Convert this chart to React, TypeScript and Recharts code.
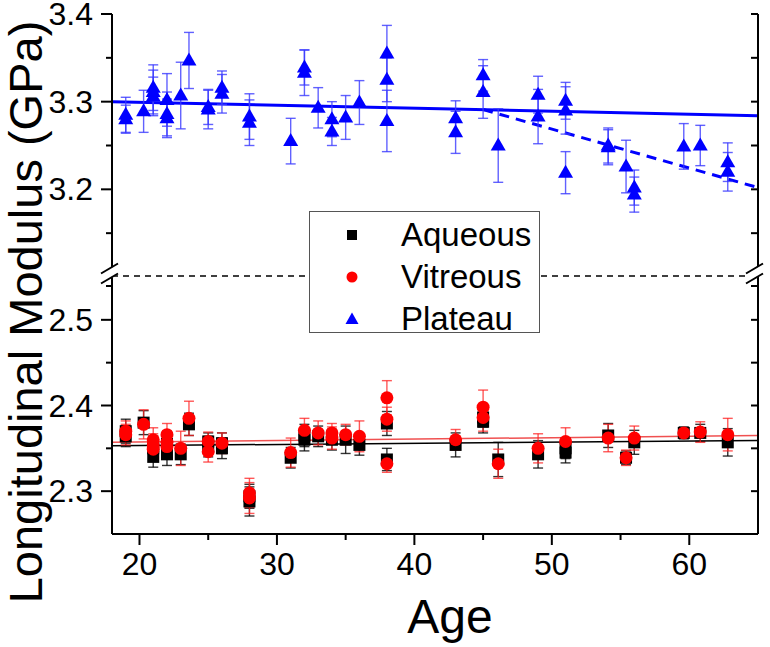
import React from 'react';
import { ScatterChart, Scatter, XAxis, YAxis, ErrorBar, ReferenceLine, Label } from 'recharts';

// Plateau (upper panel)
const plateauAge = [19, 19, 20.3, 21, 21, 21, 22, 22, 22, 23, 23.6, 25, 25, 26, 26, 28, 28, 31, 32, 32, 33, 34, 34, 35, 36, 38, 38, 38, 43, 43, 45, 45, 46.1, 49, 49, 51, 51, 51, 54.1, 54.1, 55.4, 56, 56, 59.6, 60.8, 62.8, 62.8];
const plateauModulus = [3.285, 3.28, 3.289, 3.316, 3.311, 3.306, 3.302, 3.286, 3.281, 3.307, 3.347, 3.294, 3.291, 3.316, 3.309, 3.283, 3.276, 3.255, 3.339, 3.333, 3.293, 3.28, 3.266, 3.282, 3.299, 3.355, 3.325, 3.278, 3.281, 3.265, 3.33, 3.311, 3.25, 3.308, 3.283, 3.301, 3.29, 3.219, 3.25, 3.248, 3.226, 3.202, 3.194, 3.249, 3.25, 3.231, 3.22];
const plateauError = [0.02, 0.016, 0.024, 0.026, 0.025, 0.022, 0.03, 0.025, 0.022, 0.038, 0.032, 0.02, 0.022, 0.019, 0.022, 0.026, 0.026, 0.026, 0.02, 0.026, 0.023, 0.02, 0.016, 0.025, 0.025, 0.032, 0.025, 0.035, 0.02, 0.024, 0.018, 0.03, 0.042, 0.021, 0.031, 0.021, 0.027, 0.024, 0.02, 0.02, 0.03, 0.02, 0.02, 0.026, 0.023, 0.022, 0.022];

// Aqueous (lower panel)
const aqueousAge = [19, 19, 20.3, 21, 21, 22, 22, 23, 23.6, 25, 25, 26, 26, 28, 28, 31, 32, 32, 33, 34, 35, 36, 38, 38, 43, 45, 45, 46.1, 49, 51, 51, 54.1, 55.4, 56, 59.6, 60.8, 62.8];
const aqueousModulus = [2.37, 2.364, 2.38, 2.35, 2.34, 2.355, 2.343, 2.343, 2.378, 2.358, 2.352, 2.356, 2.35, 2.294, 2.288, 2.339, 2.365, 2.36, 2.364, 2.36, 2.36, 2.354, 2.379, 2.337, 2.354, 2.386, 2.381, 2.337, 2.343, 2.35, 2.345, 2.365, 2.339, 2.357, 2.368, 2.368, 2.357];
const aqueousError = [0.014, 0.012, 0.014, 0.014, 0.012, 0.012, 0.013, 0.012, 0.013, 0.01, 0.012, 0.012, 0.012, 0.014, 0.017, 0.012, 0.013, 0.013, 0.012, 0.012, 0.016, 0.012, 0.014, 0.013, 0.014, 0.011, 0.013, 0.02, 0.016, 0.012, 0.012, 0.014, 0.008, 0.014, 0.007, 0.01, 0.016];

// Vitreous (lower panel)
const vitreousAge = [19, 19, 20.3, 21, 21, 21, 22, 22, 22, 23, 23.6, 25, 25, 26, 28, 28, 31, 32, 33, 34, 34, 35, 36, 38, 38, 38, 43, 45, 45, 46.1, 49, 51, 54.1, 55.4, 56, 59.6, 60.8, 62.8];
const vitreousModulus = [2.37, 2.366, 2.378, 2.36, 2.354, 2.349, 2.366, 2.357, 2.352, 2.35, 2.385, 2.358, 2.346, 2.356, 2.298, 2.292, 2.345, 2.371, 2.368, 2.368, 2.362, 2.366, 2.364, 2.409, 2.384, 2.332, 2.36, 2.398, 2.386, 2.332, 2.35, 2.358, 2.362, 2.339, 2.362, 2.368, 2.369, 2.366];
const vitreousError = [0.012, 0.012, 0.017, 0.014, 0.013, 0.012, 0.013, 0.013, 0.014, 0.02, 0.02, 0.011, 0.012, 0.012, 0.017, 0.018, 0.017, 0.014, 0.014, 0.011, 0.013, 0.012, 0.018, 0.02, 0.014, 0.01, 0.012, 0.02, 0.016, 0.017, 0.017, 0.016, 0.016, 0.009, 0.014, 0.006, 0.012, 0.019];

// linear fits
const fitAge = [18, 65];
const plateauFit = [3.3, 3.284];
const lateAge = [45, 65];
const plateauLateFit = [3.291, 3.202];
const aqueousFit = [2.353, 2.359];
const vitreousFit = [2.357, 2.365];

const ageTicks = [20, 25, 30, 35, 40, 45, 50, 55, 60];
const upperTicks = [3.15, 3.2, 3.25, 3.3, 3.35, 3.4];
const lowerTicks = [2.3, 2.35, 2.4, 2.45, 2.5, 2.55];

const rows = (ages: number[], vals: number[], errs: number[]) =>
  ages.map((x, i) => ({ x, y: vals[i], err: errs[i] }));

const plateauData = rows(plateauAge, plateauModulus, plateauError);
const aqueousData = rows(aqueousAge, aqueousModulus, aqueousError);
const vitreousData = rows(vitreousAge, vitreousModulus, vitreousError);

const FONT = '"Liberation Sans", Arial, sans-serif';
const isMajor = (v: number, step: number) => Math.abs(Math.round(v / step) - v / step) < 1e-6;

const LeftTick = (props: any) => {
  const { x, y, payload } = props;
  const major = isMajor(payload.value, 0.1);
  return (
    <g>
      <line x1={x - (major ? 11 : 6)} x2={x} y1={y} y2={y} stroke="#000" strokeWidth={2} />
      {major && (
        <text x={x - 19} y={y} textAnchor="end" dominantBaseline="central" fontSize={32} fontFamily={FONT} fill="#000">
          {payload.value.toFixed(1)}
        </text>
      )}
    </g>
  );
};

const RightTick = (props: any) => {
  const { x, y } = props;
  return <line x1={x - 7} x2={x} y1={y} y2={y} stroke="#000" strokeWidth={2} />;
};

const TopTick = (props: any) => {
  const { x, y } = props;
  return <line x1={x} x2={x} y1={y} y2={y + 11} stroke="#000" strokeWidth={2} />;
};

const BottomTick = (props: any) => {
  const { x, y, payload } = props;
  const major = isMajor(payload.value, 10);
  return (
    <g>
      <line x1={x} x2={x} y1={y} y2={y + (major ? 11 : 6)} stroke="#000" strokeWidth={2} />
      {major && (
        <text x={x} y={y + 30} textAnchor="middle" dominantBaseline="central" fontSize={32} fontFamily={FONT} fill="#000">
          {payload.value}
        </text>
      )}
    </g>
  );
};

const Triangle = (props: any) => {
  const { cx, cy } = props;
  return <polygon points={`${cx},${cy - 8} ${cx - 7.5},${cy + 5} ${cx + 7.5},${cy + 5}`} fill="#0000ff" />;
};
const Square = (props: any) => {
  const { cx, cy } = props;
  return <rect x={cx - 6} y={cy - 6} width={12} height={12} fill="#000" />;
};
const Dot = (props: any) => {
  const { cx, cy } = props;
  return <circle cx={cx} cy={cy} r={6.5} fill="#ff0000" />;
};

const axisLine = { stroke: '#000', strokeWidth: 2 };

export default function App() {
  return (
    <div style={{ position: 'absolute', left: 0, top: 0, width: 770, height: 647, background: '#fff', fontFamily: FONT }}>
      <div style={{ position: 'absolute', left: 0, top: 0 }}>
        <ScatterChart width={770} height={277} margin={{ top: 14, right: 0, bottom: 0, left: 0 }}>
          <XAxis xAxisId="t" orientation="top" type="number" dataKey="x" domain={[18, 65]} ticks={ageTicks}
            allowDataOverflow height={0} tickSize={0} tickMargin={0} tickLine={false} axisLine={axisLine} tick={TopTick} />
          <YAxis yAxisId="l" orientation="left" type="number" dataKey="y" domain={[3.1, 3.4]} ticks={upperTicks}
            allowDataOverflow width={112} tickSize={0} tickMargin={0} tickLine={false} axisLine={axisLine} tick={LeftTick} />
          <YAxis yAxisId="r" orientation="right" type="number" domain={[3.1, 3.4]} ticks={upperTicks}
            allowDataOverflow width={12} tickSize={0} tickMargin={0} tickLine={false} axisLine={axisLine} tick={RightTick} />
          <ReferenceLine xAxisId="t" yAxisId="l" stroke="#0000ff" strokeWidth={3}
            segment={[{ x: fitAge[0], y: plateauFit[0] }, { x: fitAge[1], y: plateauFit[1] }]} />
          <ReferenceLine xAxisId="t" yAxisId="l" stroke="#0000ff" strokeWidth={3} strokeDasharray="10 7"
            segment={[{ x: lateAge[0], y: plateauLateFit[0] }, { x: lateAge[1], y: plateauLateFit[1] }]} />
          <Scatter xAxisId="t" yAxisId="l" name="Plateau" data={plateauData} shape={Triangle} isAnimationActive={false}>
            <ErrorBar dataKey="err" direction="y" width={5} stroke="#3a3aff" strokeWidth={1.4} strokeOpacity={0.8} />
          </Scatter>
        </ScatterChart>
      </div>

      <div style={{ position: 'absolute', left: 0, top: 277 }}>
        <ScatterChart width={770} height={370} margin={{ top: 0, right: 0, bottom: 0, left: 0 }}>
          <XAxis orientation="bottom" type="number" dataKey="x" domain={[18, 65]} ticks={ageTicks}
            allowDataOverflow height={113} tickSize={0} tickMargin={0} tickLine={false} axisLine={axisLine} tick={BottomTick}>
            <Label value="Age" position="insideBottom" offset={14} dx={15} fontSize={48} fontFamily={FONT} fill="#000" />
          </XAxis>
          <YAxis yAxisId="l" orientation="left" type="number" dataKey="y" domain={[2.25, 2.55]} ticks={lowerTicks}
            allowDataOverflow width={112} tickSize={0} tickMargin={0} tickLine={false} axisLine={axisLine} tick={LeftTick} />
          <YAxis yAxisId="r" orientation="right" type="number" domain={[2.25, 2.55]} ticks={lowerTicks}
            allowDataOverflow width={12} tickSize={0} tickMargin={0} tickLine={false} axisLine={axisLine} tick={RightTick} />
          <ReferenceLine yAxisId="l" stroke="#000" strokeWidth={1.5}
            segment={[{ x: fitAge[0], y: aqueousFit[0] }, { x: fitAge[1], y: aqueousFit[1] }]} />
          <ReferenceLine yAxisId="l" stroke="#f05050" strokeWidth={1.5}
            segment={[{ x: fitAge[0], y: vitreousFit[0] }, { x: fitAge[1], y: vitreousFit[1] }]} />
          <Scatter yAxisId="l" name="Aqueous" data={aqueousData} shape={Square} isAnimationActive={false}>
            <ErrorBar dataKey="err" direction="y" width={5} stroke="#000" strokeWidth={1.4} strokeOpacity={0.8} />
          </Scatter>
          <Scatter yAxisId="l" name="Vitreous" data={vitreousData} shape={Dot} isAnimationActive={false}>
            <ErrorBar dataKey="err" direction="y" width={5} stroke="#ff2020" strokeWidth={1.4} strokeOpacity={0.75} />
          </Scatter>
        </ScatterChart>
      </div>

      {/* axis break, y title */}
      <svg width={770} height={647} style={{ position: 'absolute', left: 0, top: 0, pointerEvents: 'none' }}>
        <line x1={112} x2={758} y1={276} y2={276} stroke="#000" strokeWidth={1.5} strokeDasharray="6 5" />
        {[113, 758].map((cx) => (
          <g key={cx}>
            <polygon points={`${cx - 12},274 ${cx + 5},264 ${cx + 5},274 ${cx - 12},284`} fill="#fff" />
            <line x1={cx - 12} y1={273.5} x2={cx + 5} y2={263.5} stroke="#000" strokeWidth={2} />
            <line x1={cx - 12} y1={283.5} x2={cx + 5} y2={273.5} stroke="#000" strokeWidth={2} />
          </g>
        ))}
        <text x={25} y={312} transform="rotate(-90 25 312)" textAnchor="middle" dominantBaseline="central"
          fontSize={47} fontFamily={FONT} fill="#000">
          Longitudinal Modulus (GPa)
        </text>
      </svg>

      <div style={{ position: 'absolute', left: 309, top: 211, width: 229, height: 120, border: '1.5px solid #555', background: '#fff' }}>
        {[
          { name: 'Aqueous', mark: <rect x={6} y={6} width={10} height={10} fill="#000" /> },
          { name: 'Vitreous', mark: <circle cx={11} cy={11} r={5.5} fill="#ff0000" /> },
          { name: 'Plateau', mark: <polygon points="11,4.5 4.5,16 17.5,16" fill="#0000ff" /> },
        ].map((it, i) => (
          <div key={it.name} style={{ position: 'absolute', left: 31, top: 9 + i * 42, height: 28, display: 'flex', alignItems: 'center' }}>
            <svg width={22} height={22}>{it.mark}</svg>
            <span style={{ marginLeft: 38, fontSize: 33, color: '#000', lineHeight: '28px' }}>{it.name}</span>
          </div>
        ))}
      </div>
    </div>
  );
}
